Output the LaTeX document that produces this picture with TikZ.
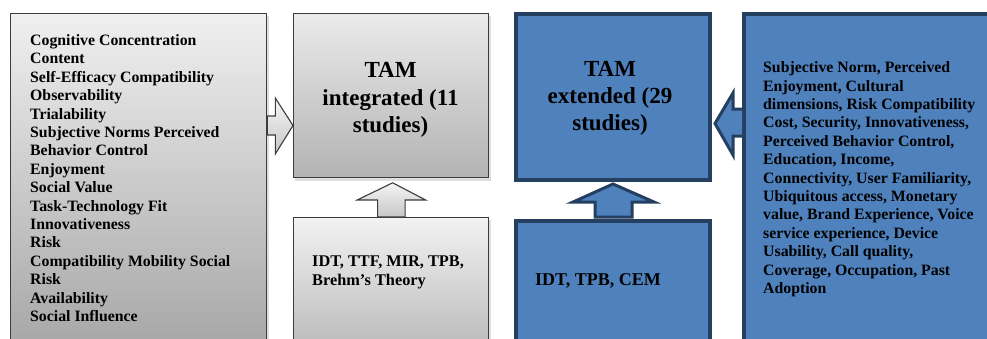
\documentclass[tikz,border=0pt]{standalone}
\usepackage{fontspec}
\setmainfont{Liberation Serif}
\usetikzlibrary{calc}
\definecolor{blueF}{HTML}{4F81BD}
\definecolor{blueD}{HTML}{243F60}
\definecolor{grayD}{HTML}{3C3C3C}
\begin{document}
\begin{tikzpicture}[x=1pt,y=-1pt,
  graybox/.style={draw=grayD, line width=1.3pt, inner sep=0pt, anchor=north west},
  bluebox/.style={draw=blueD, line width=4pt, fill=blueF, inner sep=0pt, anchor=north west},
  grayarrow/.style={draw=grayD, line width=1.1pt, top color=black!4, bottom color=black!22, line join=miter},
  bluearrow/.style={draw=blueD, line width=3pt, fill=blueF, line join=miter},
  shadowfill/.style={fill=black!13, draw=none},
  txt/.style={inner sep=0pt, font=\bfseries, text=black},
]
\useasboundingbox (0,0) rectangle (987,338);
\begin{scope}
\clip (0,0) rectangle (987,338);
% gray shadows
\fill[shadowfill] (12,16) rectangle (269,360);
\fill[shadowfill] (295,16) rectangle (491,180.5);
\fill[shadowfill] (295,220) rectangle (491,360);
% boxes
\node[graybox, top color=black!6, bottom color=black!36, minimum width=256, minimum height=350] (L) at (10,13) {};
\node[graybox, top color=black!8, bottom color=black!30, minimum width=195, minimum height=164] (TI) at (293,13) {};
\node[graybox, top color=black!5, bottom color=black!30, minimum width=195, minimum height=150] (TB) at (293,217) {};
\node[bluebox, minimum width=194, minimum height=166] (TE) at (514,12) {};
\node[bluebox, minimum width=194, minimum height=150] (BB) at (514,219) {};
\node[bluebox, minimum width=260, minimum height=360] (R) at (742,12) {};

% gray right arrow: L -> TI
\draw[grayarrow]
  ($(L.north east)+(0,103)$) -- ++(8,0) -- ++(0,-18)
  -- ($(TI.north west)+(0,112.5)$)
  -- ($(L.north east)+(8,141)$) -- ++(0,-19) -- ++(-8,0) -- cycle;

% gray up arrow: TB -> TI
\draw[grayarrow]
  ($(TB.north)+(-13.5,0)$) -- ++(0,-17) -- ++(-20.5,0)
  -- ($(TI.south)+(1.5,4.5)$)
  -- ($(TB.north)+(34.5,-17)$) -- ++(-20.5,0) -- ++(0,17) -- cycle;

% blue up arrow: BB -> TE
\draw[bluearrow]
  ($(BB.north)+(-18,-2)$) -- ++(0,-15) -- ++(-22,0)
  -- ($(TE.south)+(0,2)$)
  -- ($(BB.north)+(41,-17)$) -- ++(-22,0) -- ++(0,15) -- cycle;

% blue left arrow: R -> TE
\draw[bluearrow]
  ($(R.north west)+(0,97)$) -- ++(-9,0) -- ++(0,-16)
  -- ($(TE.north east)+(3,111.5)$)
  -- ($(R.north west)+(-9,143)$) -- ++(0,-19) -- ++(9,0);
\end{scope}

% texts (base anchor = baseline of last line)
\node[txt, anchor=base west, align=left, font=\bfseries\fontsize{15.8}{18.4}\selectfont] (Lt) at (30,321.5)
 {Cognitive Concentration\\ Content\\ Self-Efficacy Compatibility\\ Observability\\ Trialability\\
  Subjective Norms Perceived\\ Behavior Control\\ Enjoyment\\ Social Value\\ Task-Technology Fit\\
  Innovativeness\\ Risk\\ Compatibility Mobility Social\\ Risk\\ Availability\\ Social Influence};
\node[txt, anchor=base, align=center, font=\bfseries\fontsize{23}{27.7}\selectfont] (TIt) at (390.5,132.7)
 {TAM\\ integrated (11\\ studies)};
\node[txt, anchor=base, align=center, font=\bfseries\fontsize{23}{27}\selectfont] (TEt) at (610,130)
 {TAM\\ extended (29\\ studies)};
\node[txt, anchor=base west, align=left, font=\bfseries\fontsize{16.3}{18.3}\selectfont] (TBt) at (312,285)
 {IDT, TTF, MIR, TPB,\\ Brehm’s Theory};
\node[txt, anchor=base west, align=left, font=\bfseries\fontsize{18}{20}\selectfont] (BBt) at (535,285)
 {IDT, TPB, CEM};
\node[txt, anchor=base west, align=left, font=\bfseries\fontsize{15.8}{18.4}\selectfont] (Rt) at (763,293.5)
 {Subjective Norm, Perceived\\ Enjoyment, Cultural\\ dimensions, Risk Compatibility\\
  Cost, Security, Innovativeness,\\ Perceived Behavior Control,\\ Education, Income,\\
  Connectivity, User Familiarity,\\ Ubiquitous access, Monetary\\ value, Brand Experience, Voice\\
  service experience, Device\\ Usability, Call quality,\\ Coverage, Occupation, Past\\ Adoption};
\end{tikzpicture}
\end{document}
